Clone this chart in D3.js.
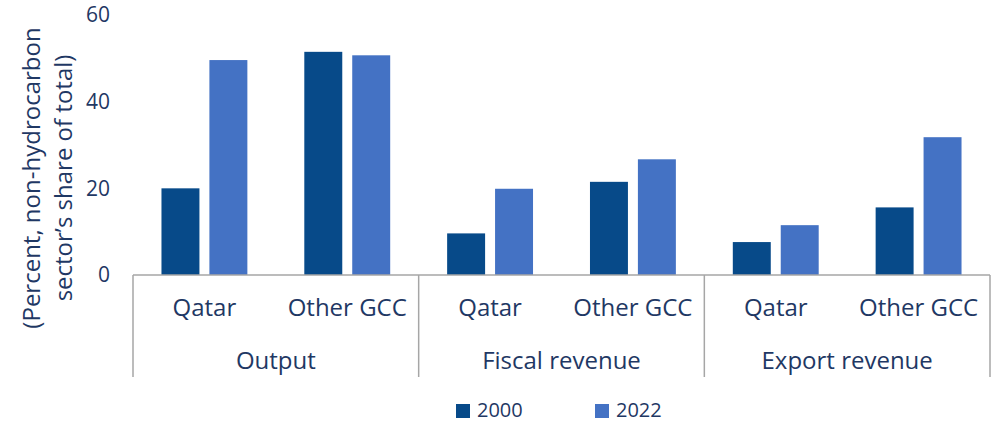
<!DOCTYPE html>
<meta charset="utf-8">
<style>
body { margin: 0; background: #fff; }
text { font-family: "Open Sans", sans-serif; fill: #1f3864; }
</style>
<svg width="998" height="423"></svg>
<script src="https://d3js.org/d3.v7.min.js"></script>
<script>
// chart data
var groups = ["Output", "Fiscal revenue", "Export revenue"];
var subs = ["Qatar", "Other GCC"];
var series = ["2000", "2022"];
var values2000 = [20.0, 51.5, 9.6, 21.5, 7.6, 15.6];
var values2022 = [49.6, 50.7, 19.9, 26.7, 11.5, 31.8];
var yTicks = [0, 20, 40, 60];
var colors = ["#074a89", "#4472c4"];

var svg = d3.select("svg");
var plotLeft = 133, plotRight = 990, plotTop = 15, base = 275;

// one row per (group, sub)
var rows = [];
groups.forEach(function(g, gi) {
  subs.forEach(function(s, si) {
    var i = gi * subs.length + si;
    rows.push({key: g + "|" + s, group: g, sub: s, vals: [values2000[i], values2022[i]]});
  });
});

var xGroup = d3.scaleBand().domain(groups).range([plotLeft, plotRight]);
var xSub = d3.scaleBand().domain(rows.map(function(d) { return d.key; })).range([plotLeft, plotRight]);
var xSeries = d3.scaleBand().domain(series).range([0, xSub.bandwidth()])
    .paddingInner(0.208).paddingOuter(0.594);
var y = d3.scaleLinear().domain([0, 60]).range([base, plotTop]);

// bars
var cat = svg.append("g").selectAll("g")
  .data(rows).enter().append("g")
    .attr("transform", function(d) { return "translate(" + xSub(d.key) + ",0)"; });

cat.selectAll("rect")
  .data(function(d) { return d.vals.map(function(v, i) { return {s: series[i], v: v, i: i}; }); })
  .enter().append("rect")
    .attr("x", function(d) { return xSeries(d.s); })
    .attr("width", xSeries.bandwidth())
    .attr("y", function(d) { return y(d.v); })
    .attr("height", function(d) { return base - y(d.v); })
    .attr("fill", function(d) { return colors[d.i]; });

// y axis labels (no line)
var yAxis = svg.append("g")
    .attr("transform", "translate(" + plotLeft + ",0)")
    .call(d3.axisLeft(y).tickValues(yTicks).tickSize(0).tickPadding(23));
yAxis.select(".domain").remove();
yAxis.selectAll("text")
    .style("font-size", "21px")
    .style("font-family", "'Open Sans', sans-serif")
    .attr("fill", "#1f3864");

// x axis baseline and separators
var axisColor = "#a6a6a6";
svg.append("line")
    .attr("x1", plotLeft).attr("x2", plotRight)
    .attr("y1", base).attr("y2", base)
    .attr("stroke", axisColor).attr("stroke-width", 1.5);

var seps = groups.map(function(g) { return xGroup(g); }).concat([plotRight]);
svg.append("g").selectAll("line")
  .data(seps).enter().append("line")
    .attr("x1", function(d) { return d; }).attr("x2", function(d) { return d; })
    .attr("y1", base).attr("y2", 377)
    .attr("stroke", axisColor).attr("stroke-width", 1.5);

// sub-category labels
svg.append("g").selectAll("text")
  .data(rows).enter().append("text")
    .attr("x", function(d) { return xSub(d.key) + xSub.bandwidth() / 2; })
    .attr("y", 316)
    .attr("text-anchor", "middle")
    .style("font-size", "24px")
    .text(function(d) { return d.sub; });

// group labels
svg.append("g").selectAll("text")
  .data(groups).enter().append("text")
    .attr("x", function(d) { return xGroup(d) + xGroup.bandwidth() / 2; })
    .attr("y", 369)
    .attr("text-anchor", "middle")
    .style("font-size", "24px")
    .text(function(d) { return d; });

// y axis title
var title = svg.append("text")
    .attr("transform", "translate(0,178) rotate(-90)")
    .attr("text-anchor", "middle")
    .style("font-size", "24px");
title.append("tspan").attr("x", 0).attr("y", 40).text("(Percent, non-hydrocarbon");
title.append("tspan").attr("x", 0).attr("y", 72).text("sector\u2019s share of total)");

// legend
var legendX = [456, 595];
var legend = svg.append("g").selectAll("g")
  .data(series).enter().append("g")
    .attr("transform", function(d, i) { return "translate(" + legendX[i] + ",404)"; });
legend.append("rect")
    .attr("width", 14).attr("height", 14)
    .attr("fill", function(d, i) { return colors[i]; });
legend.append("text")
    .attr("x", 21).attr("y", 13)
    .style("font-size", "20px")
    .text(function(d) { return d; });
</script>
